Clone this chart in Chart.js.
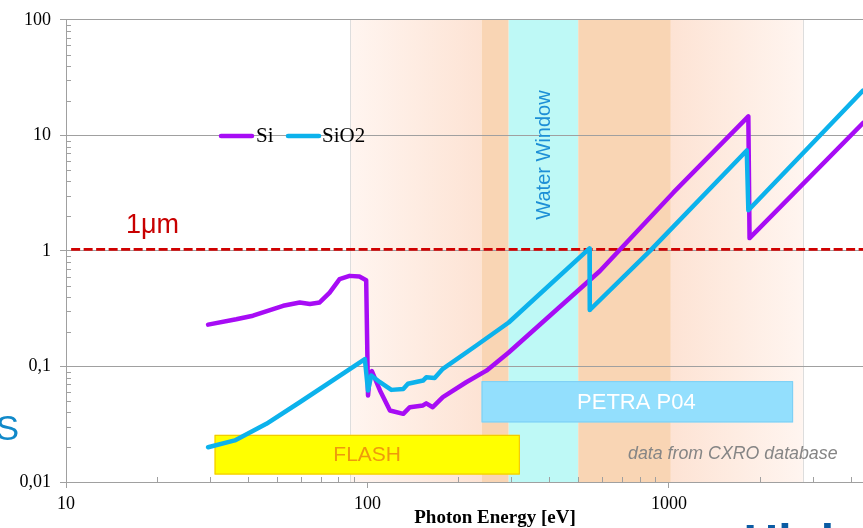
<!DOCTYPE html>
<html>
<head>
<meta charset="utf-8">
<script src="https://cdn.jsdelivr.net/npm/chart.js@4/dist/chart.umd.min.js"></script>
<style>
  body { margin: 0; background: #fff; }
  canvas { display: block; }
</style>
</head>
<body>
<canvas id="chart" width="863" height="528"></canvas>
<script>
// attenuation length (um) vs photon energy (eV)
let energySi = [29.6, 36.7, 41.7, 52.5, 59.6, 64.4, 69.4, 74.9, 80.8, 87.2, 94.0, 99.0, 100.4, 101.7, 103.4, 110, 118.7, 131.4, 138.2, 152.8, 156.6, 164.6, 177.8, 212.5, 248, 294, 590, 1033, 1833, 1850, 4400];
let lengthSi = [0.23, 0.256, 0.275, 0.335, 0.358, 0.347, 0.358, 0.436, 0.57, 0.608, 0.6, 0.558, 0.056, 0.0805, 0.091, 0.062, 0.0416, 0.0389, 0.0444, 0.046, 0.0479, 0.0444, 0.0542, 0.073, 0.092, 0.132, 0.67, 3.19, 14.6, 1.29, 12.8];
let energySiO2 = [29.6, 36.3, 46.2, 59.6, 98, 100.4, 102.9, 110, 120, 131.4, 136.2, 152.8, 156.6, 167, 177.8, 229, 294, 545, 546, 865, 1811, 1833, 4400];
let lengthSiO2 = [0.02, 0.0229, 0.0319, 0.049, 0.116, 0.062, 0.0834, 0.073, 0.0627, 0.0638, 0.0708, 0.0755, 0.0805, 0.0795, 0.0953, 0.151, 0.24, 1.05, 0.308, 1.0, 7.4, 2.25, 24.4];
let seriesNames = ['Si', 'SiO2'];

let xTicks = [10, 100, 1000];
let xTickLabels = ['10', '100', '1000'];
let yTicks = [0.01, 0.1, 1, 10, 100];
let yTickLabels = ['0,01', '0,1', '1', '10', '100'];

let oneMicron = 1.03;
// background bands: light, dark, water window, dark, light
let bandEdges = [87.8, 239, 294, 500, 1014, 2780];
let flashRange = [31.1, 320, 0.0116, 0.0256];
let petraRange = [239, 2580, 0.0328, 0.0746];

let toPoints = (xs, ys) => xs.map((x, i) => ({ x: x, y: ys[i] }));

let siColor = '#a70cf5';
let sio2Color = '#0cb2ec';
let grey = '#a0a0a0';

let extras = {
    id: 'extras',
    beforeDraw(chart) {
        let ctx = chart.ctx;
        let x = chart.scales.x;
        let a = chart.chartArea;
        let px = bandEdges.map(v => x.getPixelForValue(v));
        ctx.save();
        let g1 = ctx.createLinearGradient(px[0], 0, px[1], 0);
        g1.addColorStop(0, '#fff5f0');
        g1.addColorStop(1, '#fde3d4');
        ctx.fillStyle = g1;
        ctx.fillRect(px[0], a.top, px[1] - px[0], a.bottom - a.top);
        ctx.fillStyle = '#f9d5b4';
        ctx.fillRect(px[1], a.top, px[2] - px[1], a.bottom - a.top);
        ctx.fillStyle = '#bef9f6';
        ctx.fillRect(px[2], a.top, px[3] - px[2], a.bottom - a.top);
        ctx.fillStyle = '#f9d5b4';
        ctx.fillRect(px[3], a.top, px[4] - px[3], a.bottom - a.top);
        let g2 = ctx.createLinearGradient(px[4], 0, px[5], 0);
        g2.addColorStop(0, '#fde3d4');
        g2.addColorStop(1, '#fff5f0');
        ctx.fillStyle = g2;
        ctx.fillRect(px[4], a.top, px[5] - px[4], a.bottom - a.top);
        ctx.strokeStyle = '#dddddd';
        ctx.lineWidth = 1;
        [px[0], px[5]].forEach(p => {
            ctx.beginPath();
            ctx.moveTo(Math.round(p) + 0.5, a.top);
            ctx.lineTo(Math.round(p) + 0.5, a.bottom);
            ctx.stroke();
        });
        ctx.restore();
    },
    beforeDatasetsDraw(chart) {
        let ctx = chart.ctx;
        let x = chart.scales.x, y = chart.scales.y;
        ctx.save();
        // minor ticks inside the plot
        ctx.strokeStyle = grey;
        ctx.lineWidth = 1;
        for (let d = 10; d < 10000; d *= 10) {
            for (let m = 2; m < 10; m++) {
                let v = d * m;
                if (v > x.max) break;
                let p = Math.round(x.getPixelForValue(v)) + 0.5;
                ctx.beginPath();
                ctx.moveTo(p, chart.chartArea.bottom);
                ctx.lineTo(p, chart.chartArea.bottom - 5);
                ctx.stroke();
            }
        }
        for (let d = 0.01; d < 100; d *= 10) {
            for (let m = 2; m < 10; m++) {
                let p = Math.round(y.getPixelForValue(d * m)) + 0.5;
                ctx.beginPath();
                ctx.moveTo(chart.chartArea.left, p);
                ctx.lineTo(chart.chartArea.left + 5, p);
                ctx.stroke();
            }
        }
        // FLASH box
        let fx0 = x.getPixelForValue(flashRange[0]), fx1 = x.getPixelForValue(flashRange[1]);
        let fy0 = y.getPixelForValue(flashRange[3]), fy1 = y.getPixelForValue(flashRange[2]);
        ctx.fillStyle = '#ffff00';
        ctx.fillRect(fx0, fy0, fx1 - fx0, fy1 - fy0);
        ctx.strokeStyle = '#f2c000';
        ctx.strokeRect(fx0 + 0.5, fy0 + 0.5, fx1 - fx0 - 1, fy1 - fy0 - 1);
        ctx.fillStyle = '#ee9a0c';
        ctx.font = '21px "Liberation Sans", Arial';
        ctx.textAlign = 'center';
        ctx.textBaseline = 'middle';
        ctx.fillText('FLASH', (fx0 + fx1) / 2, (fy0 + fy1) / 2 + 1);
        // PETRA box
        let px0 = x.getPixelForValue(petraRange[0]), px1 = x.getPixelForValue(petraRange[1]);
        let py0 = y.getPixelForValue(petraRange[3]), py1 = y.getPixelForValue(petraRange[2]);
        ctx.fillStyle = '#93dffd';
        ctx.fillRect(px0, py0, px1 - px0, py1 - py0);
        ctx.strokeStyle = '#7ccff5';
        ctx.strokeRect(px0 + 0.5, py0 + 0.5, px1 - px0 - 1, py1 - py0 - 1);
        ctx.fillStyle = '#ffffff';
        ctx.font = '22px "Liberation Sans", Arial';
        ctx.fillText('PETRA P04', (px0 + px1) / 2 - 1, (py0 + py1) / 2 + 1);
        ctx.restore();
    },
    afterDraw(chart) {
        let ctx = chart.ctx;
        ctx.save();
        // legend
        ctx.lineCap = 'round';
        ctx.lineWidth = 4.5;
        ctx.strokeStyle = siColor;
        ctx.beginPath(); ctx.moveTo(221, 136); ctx.lineTo(252, 136); ctx.stroke();
        ctx.strokeStyle = sio2Color;
        ctx.beginPath(); ctx.moveTo(288, 136); ctx.lineTo(319, 136); ctx.stroke();
        ctx.fillStyle = '#000';
        ctx.font = '21px "Liberation Serif", "Times New Roman"';
        ctx.textAlign = 'left';
        ctx.textBaseline = 'alphabetic';
        ctx.fillText(seriesNames[0], 256, 142);
        ctx.fillText(seriesNames[1], 322, 142);
        // 1 micron label
        ctx.fillStyle = '#c80000';
        ctx.font = '27px "Liberation Sans", Arial';
        ctx.fillText('1\u03bcm', 126, 233);
        // water window
        ctx.save();
        ctx.translate(550, 155);
        ctx.rotate(-Math.PI / 2);
        ctx.fillStyle = '#1d8fd6';
        ctx.font = '20px "Liberation Sans", Arial';
        ctx.textAlign = 'center';
        ctx.fillText('Water Window', 0, 0);
        ctx.restore();
        // source note
        ctx.fillStyle = '#858585';
        ctx.font = 'italic 17.8px "Liberation Sans", Arial';
        ctx.fillText('data from CXRO database', 628, 459);
        // axis title
        ctx.fillStyle = '#000';
        ctx.font = 'bold 19px "Liberation Serif", "Times New Roman"';
        ctx.textAlign = 'center';
        ctx.fillText('Photon Energy [eV]', 495, 523);
        // cut-off slide text
        ctx.textAlign = 'right';
        ctx.fillStyle = '#1189c9';
        ctx.font = '35px "Liberation Sans", Arial';
        ctx.fillText('S', 19, 440);
        ctx.textAlign = 'left';
        ctx.fillStyle = '#0b5ca4';
        ctx.font = 'bold 48px "Liberation Sans", Arial';
        ctx.fillText('High', 743.5, 558);
        ctx.restore();
    }
};

let ctx = document.getElementById('chart').getContext('2d');
let myChart = new Chart(ctx, {
    type: 'line',
    data: {
        datasets: [{
            label: seriesNames[1],
            data: toPoints(energySiO2, lengthSiO2),
            borderColor: sio2Color,
            borderWidth: 4.5,
            pointRadius: 0,
            tension: 0,
            borderJoinStyle: 'round',
            borderCapStyle: 'round',
            order: 1
        }, {
            label: seriesNames[0],
            data: toPoints(energySi, lengthSi),
            borderColor: siColor,
            borderWidth: 4.5,
            pointRadius: 0,
            tension: 0,
            borderJoinStyle: 'round',
            borderCapStyle: 'round',
            order: 2
        }, {
            label: '1um',
            data: [{ x: 10.4, y: oneMicron }, { x: 4400, y: oneMicron }],
            borderColor: '#d00000',
            borderWidth: 2.6,
            borderDash: [9, 3.5],
            pointRadius: 0,
            order: 3
        }]
    },
    options: {
        responsive: false,
        animation: false,
        layout: { padding: { top: 18, right: 0, left: 0, bottom: 0 } },
        plugins: {
            legend: { display: false },
            tooltip: { enabled: false }
        },
        scales: {
            x: {
                type: 'logarithmic',
                min: 10,
                max: 4400,
                afterBuildTicks: (s) => { s.ticks = xTicks.map(v => ({ value: v })); },
                afterFit: (s) => { s.height = 46; },
                ticks: {
                    autoSkip: false,
                    maxRotation: 0,
                    padding: 5,
                    color: '#000',
                    font: { family: '"Liberation Serif", "Times New Roman"', size: 18 },
                    callback: (v) => xTickLabels[xTicks.indexOf(v)]
                },
                grid: { drawOnChartArea: false, color: grey, tickLength: 6 },
                border: { color: grey }
            },
            y: {
                type: 'logarithmic',
                min: 0.01,
                max: 100,
                afterBuildTicks: (s) => { s.ticks = yTicks.map(v => ({ value: v })); },
                afterFit: (s) => { s.width = 66; },
                ticks: {
                    autoSkip: false,
                    padding: 9,
                    color: '#000',
                    font: { family: '"Liberation Serif", "Times New Roman"', size: 18 },
                    callback: (v) => yTickLabels[yTicks.indexOf(v)]
                },
                grid: { color: grey, tickLength: 6 },
                border: { color: grey }
            }
        }
    },
    plugins: [extras]
});
</script>
</body>
</html>
